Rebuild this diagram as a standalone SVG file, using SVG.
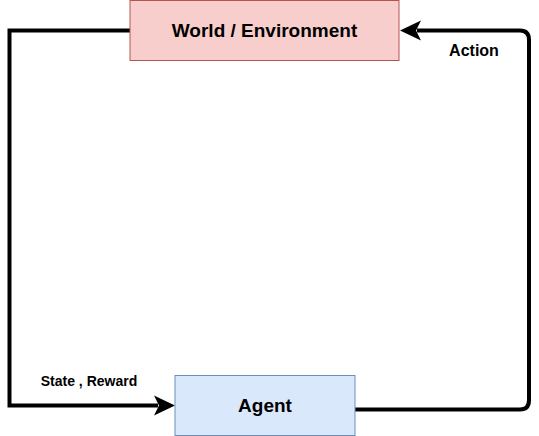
<svg xmlns="http://www.w3.org/2000/svg" width="539" height="436" viewBox="0 0 539 436">
<style>
text{font-family:"Liberation Sans",Arial,sans-serif;font-weight:bold;fill:#000}
.node-label{font-size:19px;text-anchor:middle;dominant-baseline:central}
.edge-label{text-anchor:middle;dominant-baseline:central}
.edge{fill:none;stroke:#000;stroke-width:4;stroke-linejoin:miter}
.head{fill:#000}
</style>
<g id="connectors">
<path class="edge" d="M130,30.5 H9.5 V405.5 H158" />
<path class="head" d="M154,395.5 L175,405.5 L154,415.5 L159,405.5 Z"/>
<path class="edge" d="M355,409.5 H520 Q529,409.5 529,400 V40 Q529,30.5 520,30.5 H417" />
<path class="head" d="M421,20.5 L400,30.5 L421,40.5 L416,30.5 Z"/>
<text class="edge-label" x="474" y="50" font-size="16">Action</text>
<text class="edge-label" x="89" y="381" font-size="14">State , Reward</text>
</g>
<g id="world">
<rect x="130" y="0.5" width="269" height="60" fill="#f8cecc" stroke="#b85450"/>
<text class="node-label" x="264.5" y="30.5">World / Environment</text>
</g>
<g id="agent">
<rect x="175" y="375.5" width="180" height="60" fill="#dae8fc" stroke="#6c8ebf"/>
<text class="node-label" x="265" y="405.5">Agent</text>
</g>
</svg>
